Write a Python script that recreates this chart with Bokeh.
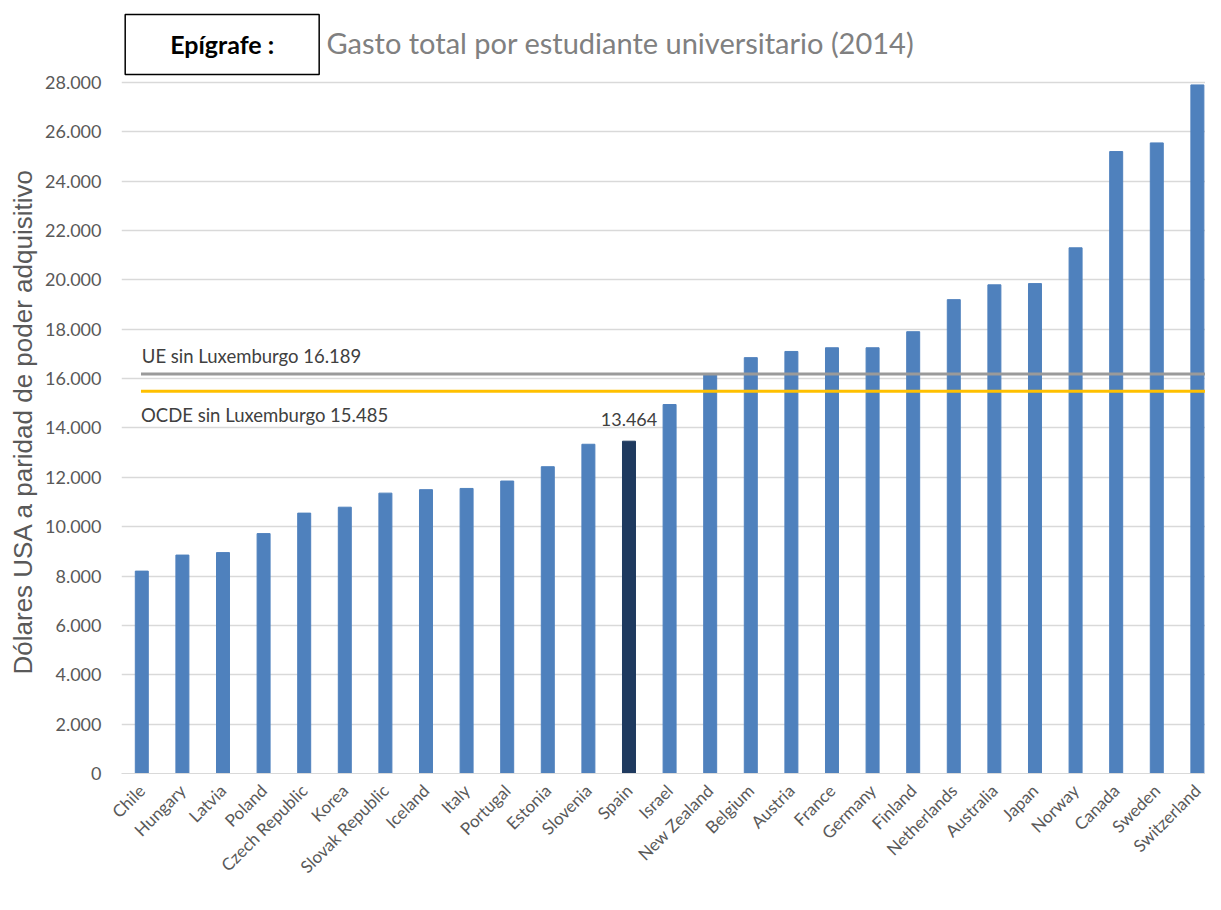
import math
from bokeh.plotting import figure
from bokeh.models import Range1d, FixedTicker, Label, ColumnDataSource, Title
from bokeh.embed import file_html
from bokeh.resources import INLINE

countries = ["Chile", "Hungary", "Latvia", "Poland", "Czech Republic", "Korea",
             "Slovak Republic", "Iceland", "Italy", "Portugal", "Estonia", "Slovenia",
             "Spain", "Israel", "New Zealand", "Belgium", "Austria", "France",
             "Germany", "Finland", "Netherlands", "Australia", "Japan", "Norway",
             "Canada", "Sweden", "Switzerland"]
spending = [8200, 8850, 8950, 9720, 10550, 10790, 11360, 11500, 11550, 11850,
            12430, 13340, 13464, 14950, 16200, 16850, 17100, 17250, 17250, 17900,
            19200, 19800, 19850, 21300, 25200, 25550, 27900]
highlight = "Spain"
ue_avg = 16189
ocde_avg = 15485
y_ticks = list(range(0, 28001, 2000))

FONT = "Lato"
GREY_TXT = "#595959"

xs = list(range(len(countries)))
colors = ["#1F3A5F" if c == highlight else "#4F81BD" for c in countries]
src = ColumnDataSource(dict(x=xs, top=spending, color=colors))

p = figure(width=1205, height=894, output_backend="svg", toolbar_location=None,
           x_range=Range1d(-0.5, 26.2), y_range=Range1d(0, 31320),
           min_border_left=110, min_border_right=0, min_border_top=0,
           min_border_bottom=121, background_fill_color="white",
           border_fill_color="white")
p.outline_line_color = None

p.vbar(x="x", top="top", bottom=0, width=0.32, color="color", source=src)

# reference lines
p.segment(x0=[-0.02], y0=[ue_avg], x1=[26.2], y1=[ue_avg], line_color="#9a9a9a", line_width=3)
p.segment(x0=[-0.02], y0=[ocde_avg], x1=[26.2], y1=[ocde_avg], line_color="#FFC000", line_width=3)

# axes
p.xaxis.ticker = FixedTicker(ticks=xs)
p.xaxis.major_label_overrides = {i: c for i, c in enumerate(countries)}
p.xaxis.major_label_orientation = math.pi / 4
p.xaxis.major_tick_line_color = None
p.xaxis.minor_tick_line_color = None
p.xaxis.axis_line_color = "#d9d9d9"
p.xaxis.major_label_text_font = FONT
p.xaxis.major_label_text_font_size = "17px"
p.xaxis.major_label_text_color = GREY_TXT
p.xaxis.major_label_standoff = 8
p.xgrid.grid_line_color = None

p.yaxis.ticker = FixedTicker(ticks=y_ticks)
p.yaxis.major_label_overrides = {t: f"{t:,}".replace(",", ".") for t in y_ticks}
p.yaxis.axis_line_color = None
p.yaxis.major_tick_line_color = None
p.yaxis.minor_tick_line_color = None
p.yaxis.major_label_text_font = FONT
p.yaxis.major_label_text_font_size = "18px"
p.yaxis.major_label_text_color = GREY_TXT
p.yaxis.major_label_standoff = 14
p.ygrid.grid_line_color = "#d9d9d9"
p.ygrid.grid_line_width = 1.5

p.add_layout(Title(text="Dólares USA a paridad de poder adquisitivo", align="left",
                   offset=99, text_font="Liberation Sans", text_font_size="26px",
                   text_font_style="normal", text_color=GREY_TXT), "left")

# annotations
p.add_layout(Label(x=0.0, y=16930, text=f"UE sin Luxemburgo {ue_avg:,}".replace(",", "."),
                   text_font=FONT, text_font_size="18.5px", text_color="#404040",
                   text_baseline="middle"))
p.add_layout(Label(x=-0.02, y=14520, text=f"OCDE sin Luxemburgo {ocde_avg:,}".replace(",", "."),
                   text_font=FONT, text_font_size="18.5px", text_color="#404040",
                   text_baseline="middle"))
sp = countries.index(highlight)
p.add_layout(Label(x=sp, y=14360, text=f"{spending[sp]:,}".replace(",", "."),
                   text_font=FONT, text_font_size="18px", text_color="#404040",
                   text_baseline="middle", text_align="center"))

# title area
p.add_layout(Label(x=1.98, y=29540, text="Epígrafe :",
                   text_font=FONT, text_font_size="25px", text_font_style="bold",
                   text_color="black", text_baseline="middle", text_align="center",
                   border_line_color="black", border_line_width=1.5,
                   background_fill_color="white", padding=(45, 45, 15, 15)))
p.add_layout(Label(x=4.55, y=29620,
                   text="Gasto total por estudiante universitario (2014)",
                   text_font=FONT, text_font_size="29px", text_color="#808080",
                   text_baseline="middle"))

open("out.html", "w").write(file_html(p, INLINE))
